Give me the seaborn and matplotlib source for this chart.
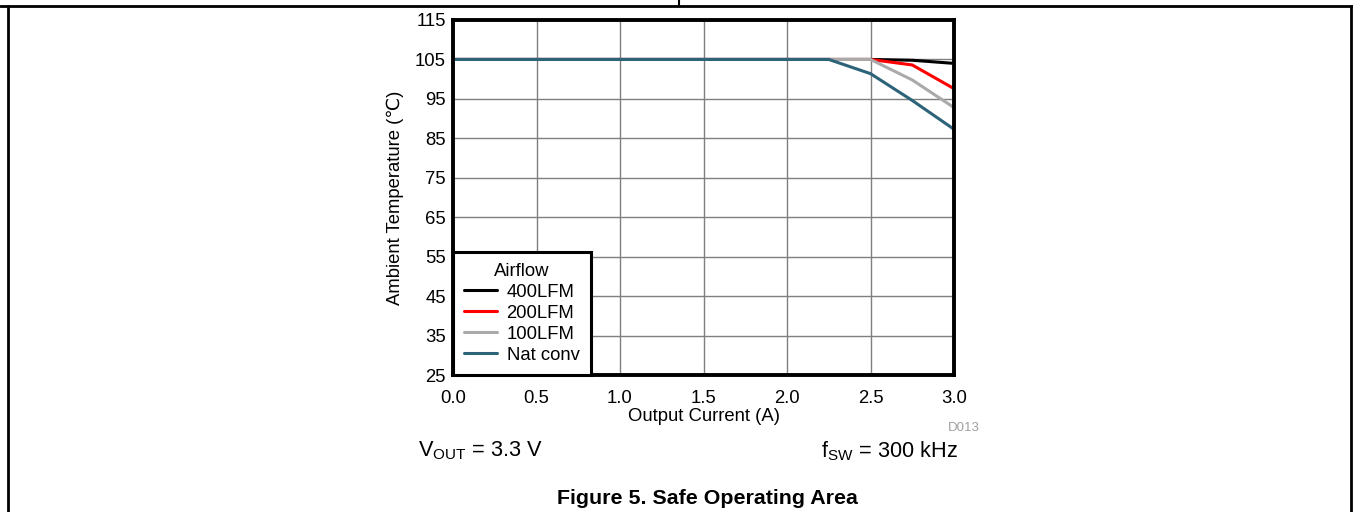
import numpy as np
import pandas as pd
import seaborn as sns
from matplotlib import pyplot as plt
from matplotlib.lines import Line2D

# data
current = [0.0, 0.25, 0.5, 0.75, 1.0, 1.25, 1.5, 1.75, 2.0, 2.25, 2.5, 2.75, 3.0]
lfm400 = [105, 105, 105, 105, 105, 105, 105, 105, 105, 105, 105, 104.8, 104.0]
lfm200 = [105, 105, 105, 105, 105, 105, 105, 105, 105, 105, 105, 103.6, 97.6]
lfm100 = [105, 105, 105, 105, 105, 105, 105, 105, 105, 105, 105, 99.8, 92.8]
natconv = [105, 105, 105, 105, 105, 105, 105, 105, 105, 105, 101.4, 94.6, 87.3]
series_names = ["400LFM", "200LFM", "100LFM", "Nat conv"]
series_colors = ["#000000", "#FF0000", "#AAAAAA", "#2D6378"]

x_ticks = [0.0, 0.5, 1.0, 1.5, 2.0, 2.5, 3.0]
y_ticks = [25, 35, 45, 55, 65, 75, 85, 95, 105, 115]

df = pd.concat([
    pd.DataFrame({"current": current, "temp": vals, "Airflow": name})
    for name, vals in zip(series_names, [lfm400, lfm200, lfm100, natconv])
])

sns.set_style("white")
plt.rcParams['font.family'] = ['Liberation Sans', 'DejaVu Sans']
plt.rcParams['text.color'] = 'black'
plt.rcParams['axes.labelcolor'] = 'black'
plt.rcParams['xtick.color'] = 'black'
plt.rcParams['ytick.color'] = 'black'

FS = 13.3

fig = plt.figure(figsize=(13.53, 5.12), dpi=100)
ax = fig.add_axes([453 / 1353, 1 - 375 / 512, 501 / 1353, 355 / 512])

sns.lineplot(data=df, x="current", y="temp", hue="Airflow",
             palette=dict(zip(series_names, series_colors)),
             linewidth=2.2, ax=ax, legend=False)

ax.set_xlim(0, 3)
ax.set_ylim(25, 115)
ax.set_xticks(x_ticks)
ax.set_yticks(y_ticks)
ax.set_xticklabels([f"{v:.1f}" for v in x_ticks], fontsize=FS)
ax.set_yticklabels([str(v) for v in y_ticks], fontsize=FS)
ax.tick_params(axis="x", length=0, pad=10.5)
ax.tick_params(axis="y", length=0, pad=5)
ax.grid(True, color="#7F7F7F", linewidth=1)
ax.set_axisbelow(True)
for sp in ax.spines.values():
    sp.set_visible(True)
    sp.set_color("black")
    sp.set_linewidth(2.8)

ax.set_xlabel("Output Current (A)", fontsize=FS, labelpad=1)
ax.set_ylabel("Ambient Temperature (\u2103)", fontsize=FS, labelpad=8)

handles = [Line2D([], [], color=c, linewidth=2.2) for c in series_colors]
leg = ax.legend(handles, series_names, title="Airflow", loc="lower left",
                fontsize=FS, title_fontsize=FS, frameon=True, fancybox=False,
                borderaxespad=0, handlelength=1.8, handletextpad=0.5,
                labelspacing=0.22, borderpad=0.6)
leg.get_frame().set_edgecolor("black")
leg.get_frame().set_linewidth(2.2)
leg.get_frame().set_alpha(1)

fig.text(980 / 1353, 1 - 428 / 512, "D013", color="#A0A0A0", fontsize=9.5,
         ha="right", va="center")
fig.text(418 / 1353, 1 - 451 / 512, r"V$_{\mathregular{OUT}}$ = 3.3 V", fontsize=15.7,
         ha="left", va="center")
fig.text(958 / 1353, 1 - 451 / 512, r"f$_{\mathregular{SW}}$ = 300 kHz", fontsize=15.7,
         ha="right", va="center")
fig.text(707 / 1353, 1 - 498 / 512, "Figure 5. Safe Operating Area", fontsize=15.4,
         fontweight="bold", ha="center", va="center")

# page frame lines
fig.add_artist(Line2D([0, 1], [1 - 6 / 512] * 2, color="black", linewidth=2, transform=fig.transFigure))
fig.add_artist(Line2D([679 / 1353] * 2, [1 - 6 / 512, 1], color="black", linewidth=1.5, transform=fig.transFigure))
fig.add_artist(Line2D([8 / 1353] * 2, [0, 1 - 6 / 512], color="black", linewidth=2, transform=fig.transFigure))
fig.add_artist(Line2D([1351 / 1353] * 2, [0, 1 - 6 / 512], color="black", linewidth=2, transform=fig.transFigure))

plt.savefig("out.png", dpi=100)
